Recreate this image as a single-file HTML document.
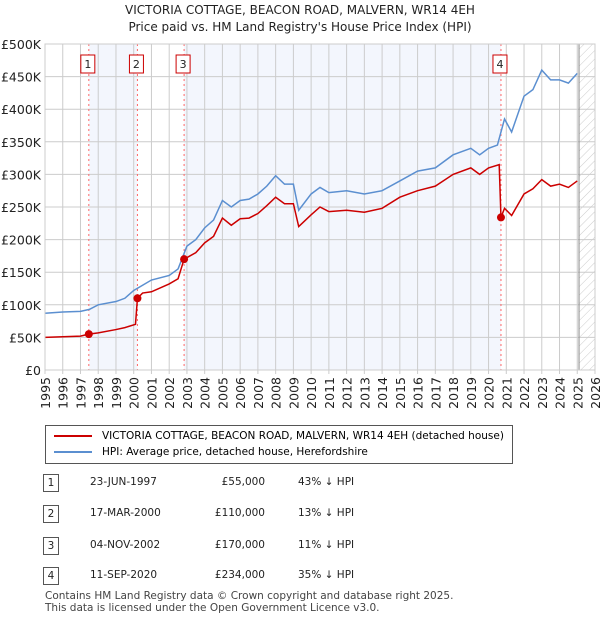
<!DOCTYPE html>
<html><head><meta charset="utf-8"><style>
body{margin:0;background:#fff;font-family:"DejaVu Sans","Liberation Sans",sans-serif;}
#wrap{position:relative;width:600px;height:620px;overflow:hidden}
.t{position:absolute;font-size:12px;color:#222}
</style></head><body><div id="wrap">
<div class="t" style="left:0;width:600px;top:2px;text-align:center;font-size:12px;line-height:17px">VICTORIA COTTAGE, BEACON ROAD, MALVERN, WR14 4EH<br>Price paid vs. HM Land Registry's House Price Index (HPI)</div>
<svg id="chart" width="600" height="420" style="position:absolute;left:0;top:0;font-family:'DejaVu Sans',sans-serif"></svg>
<div style="position:absolute;left:45px;top:425px;width:466px;height:37px;border:1px solid #555;font-size:10.5px">
<div style="position:absolute;left:8px;top:4px;white-space:nowrap"><span style="display:inline-block;width:38px;border-top:2px solid #c00;vertical-align:middle;margin-right:10px"></span>VICTORIA COTTAGE, BEACON ROAD, MALVERN, WR14 4EH (detached house)</div>
<div style="position:absolute;left:8px;top:20px;white-space:nowrap"><span style="display:inline-block;width:38px;border-top:2px solid #5b8fd0;vertical-align:middle;margin-right:10px"></span>HPI: Average price, detached house, Herefordshire</div>
</div>
<div id="tbl"></div>
<div class="t" style="left:45px;top:590px;font-size:10.5px;line-height:12px;color:#444">Contains HM Land Registry data © Crown copyright and database right 2025.<br>This data is licensed under the Open Government Licence v3.0.</div>
</div>
<script>
const hpiYears=[1995,1996,1997,1997.5,1998,1999,1999.5,2000,2000.5,2001,2002,2002.5,2003,2003.5,2004,2004.5,2005,2005.5,2006,2006.5,2007,2007.5,2008,2008.5,2009,2009.3,2010,2010.5,2011,2012,2013,2014,2015,2016,2017,2018,2019,2019.5,2020,2020.5,2020.9,2021.3,2022,2022.5,2023,2023.5,2024,2024.5,2025];
const hpiValues=[87,89,90,93,100,105,110,122,130,138,145,155,190,200,218,230,260,250,260,262,270,282,298,285,285,245,270,280,272,275,270,275,290,305,310,330,340,330,340,345,385,365,420,430,460,445,445,440,455];
const propYears=[1995,1996,1997,1997.47,1998,1999,1999.5,2000.1,2000.21,2000.5,2001,2002,2002.5,2002.84,2003.5,2004,2004.5,2005,2005.5,2006,2006.5,2007,2007.5,2008,2008.5,2009,2009.3,2010,2010.5,2011,2012,2013,2014,2015,2016,2017,2018,2019,2019.5,2020,2020.6,2020.7,2020.9,2021.3,2022,2022.5,2023,2023.5,2024,2024.5,2025];
const propValues=[50,51,52,55,57,62,65,70,110,118,120,132,140,170,180,195,205,233,222,232,233,240,252,265,255,255,220,238,250,243,245,242,248,265,275,282,300,310,300,310,315,234,248,237,270,278,292,282,285,280,290];
const saleLabels=["1","2","3","4"];
const saleDates=["23-JUN-1997","17-MAR-2000","04-NOV-2002","11-SEP-2020"];
const saleYears=[1997.47,2000.21,2002.84,2020.7];
const salePrices=[55,110,170,234];
const salePrintedPrices=["£55,000","£110,000","£170,000","£234,000"];
const saleHpiDiff=["43% ↓ HPI","13% ↓ HPI","11% ↓ HPI","35% ↓ HPI"];
const yTicks=[0,50,100,150,200,250,300,350,400,450,500];
const yTickLabels=["£0","£50K","£100K","£150K","£200K","£250K","£300K","£350K","£400K","£450K","£500K"];
const xTicks=[1995,1996,1997,1998,1999,2000,2001,2002,2003,2004,2005,2006,2007,2008,2009,2010,2011,2012,2013,2014,2015,2016,2017,2018,2019,2020,2021,2022,2023,2024,2025,2026];

const NS="http://www.w3.org/2000/svg",svg=document.getElementById('chart');
const X0=45,X1=595,Y0=370,Y1=44;
const x=v=>X0+(v-1995)/(2026-1995)*(X1-X0);
const y=v=>Y0-v/500*(Y0-Y1);
function mk(t,a){const e=document.createElementNS(NS,t);for(const k in a)e.setAttribute(k,a[k]);svg.appendChild(e);return e;}
let e;
e=mk('rect',{x:x(saleYears[0]),y:Y1,width:x(saleYears[1])-x(saleYears[0]),height:Y0-Y1,fill:'#f3f6fd'});

e=mk('rect',{x:x(saleYears[2]),y:Y1,width:x(saleYears[3])-x(saleYears[2]),height:Y0-Y1,fill:'#f3f6fd'});

const defs=mk('defs',{});defs.innerHTML='<pattern id="h" width="6" height="6" patternUnits="userSpaceOnUse" patternTransform="rotate(45)"><line x1="0" y1="0" x2="0" y2="6" stroke="#ccc" stroke-width="1"/></pattern>';
e=mk('rect',{x:x(2025.1),y:Y1,width:X1-x(2025.1),height:Y0-Y1,fill:'url(#h)'});

yTicks.forEach((v,i)=>{
 e=mk('line',{x1:X0,x2:X1,y1:y(v),y2:y(v),stroke:'#ccc'});
 
 e=mk('text',{x:X0-4,y:y(v)+5,'text-anchor':'end','font-size':12.5,fill:'#222'});e.textContent=yTickLabels[i];
 
});
xTicks.forEach(v=>{
 e=mk('line',{x1:x(v),x2:x(v),y1:Y1,y2:Y0+4,stroke:'#ccc'});
 
 e=mk('text',{x:0,y:0,'text-anchor':'end','font-size':12.5,fill:'#222',transform:`translate(${x(v)+5},${Y0+7}) rotate(-90)`});e.textContent=v;
 
});
e=mk('line',{x1:x(2025.1),x2:x(2025.1),y1:Y1,y2:Y0,stroke:'#888'});

saleYears.forEach((v,i)=>{
 e=mk('line',{x1:x(v),x2:x(v),y1:Y1,y2:Y0,stroke:'#f66','stroke-dasharray':'2,3'});
 
});
e=mk('polyline',{points:hpiYears.map((v,i)=>x(v)+','+y(hpiValues[i])).join(' '),fill:'none',stroke:'#5b8fd0','stroke-width':1.5});

e=mk('polyline',{points:propYears.map((v,i)=>x(v)+','+y(propValues[i])).join(' '),fill:'none',stroke:'#c00','stroke-width':1.5});

saleYears.forEach((v,i)=>{
 e=mk('circle',{cx:x(v),cy:y(salePrices[i]),r:4,fill:'#c00'});
 
 e=mk('rect',{x:x(v)-8,y:55,width:14,height:18,fill:'#fff',stroke:'#c00'});
 
 e=mk('text',{x:x(v)-1,y:68,'text-anchor':'middle','font-size':11,fill:'#222'});e.textContent=saleLabels[i];
 
});
e=mk('rect',{x:X0,y:Y1,width:X1-X0,height:Y0-Y1,fill:'none',stroke:'#ccc'});

const tbl=document.getElementById('tbl');
const rowY=[482,513,545,575];
saleLabels.forEach((l,i)=>{
 const r=document.createElement('div');
 
 
 r.style.cssText=`position:absolute;left:0;top:${rowY[i]-8}px;width:600px;height:18px;font-size:10.5px;color:#222`;
 r.innerHTML=`<span style="position:absolute;left:43px;top:0;width:14px;height:16px;border:1px solid #555;text-align:center;line-height:16px">${l}</span><span style="position:absolute;left:90px;top:2px">${saleDates[i]}</span><span style="position:absolute;right:335px;top:2px">${salePrintedPrices[i]}</span><span style="position:absolute;left:298px;top:2px">${saleHpiDiff[i]}</span>`;
 tbl.appendChild(r);
});
</script></body></html>
